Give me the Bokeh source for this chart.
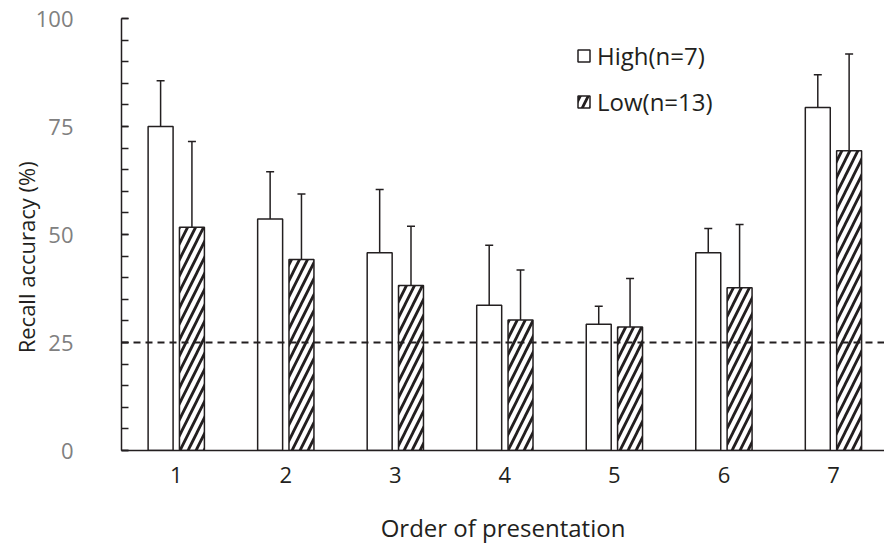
from bokeh.plotting import figure
from bokeh.models import (ColumnDataSource, Whisker, TeeHead, Span, Legend,
                          LegendItem, FixedTicker, Range1d)
from bokeh.embed import file_html
from bokeh.resources import INLINE

# ---- data ----
orders = [1, 2, 3, 4, 5, 6, 7]
order_labels = ["1", "2", "3", "4", "5", "6", "7"]
high_mean = [75.0, 53.6, 45.8, 33.6, 29.2, 45.8, 79.4]
high_lower = [64.4, 42.7, 31.0, 19.7, 25.1, 40.1, 71.6]
high_upper = [85.6, 64.5, 60.4, 47.5, 33.4, 51.4, 87.0]
low_mean = [51.7, 44.2, 38.2, 30.2, 28.6, 37.7, 69.4]
low_lower = [31.5, 29.2, 24.4, 18.4, 17.1, 23.4, 46.7]
low_upper = [71.5, 59.4, 51.9, 41.8, 39.8, 52.3, 91.8]
chance_level = 25
y_ticks = [0, 25, 50, 75, 100]

DARK = "#231f20"
FONT = "Open Sans"
OFFSET = 0.143
BAR_W = 0.228

high_src = ColumnDataSource(dict(
    x=[o - OFFSET for o in orders], top=high_mean,
    lower=high_lower, upper=high_upper))
low_src = ColumnDataSource(dict(
    x=[o + OFFSET for o in orders], top=low_mean,
    lower=low_lower, upper=low_upper))

p = figure(width=884, height=546, x_range=Range1d(0.5, 7.466),
           y_range=Range1d(0, 100), output_backend="svg",
           toolbar_location=None, min_border_left=121, min_border_right=0,
           min_border_top=18, min_border_bottom=95)
p.xgrid.visible = False
p.ygrid.visible = False
p.outline_line_color = None
p.background_fill_color = "white"
p.border_fill_color = "white"

r_high = p.vbar(x="x", top="top", bottom=0, width=BAR_W, source=high_src,
                fill_color="white", line_color=DARK, line_width=1.5)
r_low = p.vbar(x="x", top="top", bottom=0, width=BAR_W, source=low_src,
               fill_color="white", line_color=DARK, line_width=1.5,
               hatch_pattern="/", hatch_color=DARK, hatch_weight=2.8,
               hatch_scale=16)

p.add_layout(Span(location=chance_level, dimension="width",
                  line_color=DARK, line_width=1.8, line_dash="7 5"))

for src in (high_src, low_src):
    w = Whisker(source=src, base="x", upper="upper", lower="lower",
                line_color=DARK, line_width=1.5,
                upper_head=TeeHead(size=8, line_color=DARK, line_width=1.5),
                lower_head=TeeHead(size=8, line_color=DARK, line_width=1.5))
    p.add_layout(w)

# y axis
ya = p.yaxis[0]
ya.ticker = FixedTicker(ticks=y_ticks, minor_ticks=list(range(0, 101, 5)))
ya.axis_line_color = DARK
ya.axis_line_width = 1.5
ya.major_tick_line_color = DARK
ya.major_tick_line_width = 1.5
ya.minor_tick_line_color = DARK
ya.minor_tick_line_width = 1.5
ya.major_tick_in = 7
ya.major_tick_out = 0
ya.minor_tick_in = 7
ya.minor_tick_out = 0
ya.major_label_text_font = FONT
ya.major_label_text_font_size = "22px"
ya.major_label_text_color = "#808080"
ya.major_label_standoff = 48
# trailing no-break spaces nudge the rotated title downwards, as in the reference
ya.axis_label = "Recall accuracy (%)" + "\u00a0" * 8
ya.axis_label_text_font = FONT
ya.axis_label_text_font_size = "22px"
ya.axis_label_text_font_style = "normal"
ya.axis_label_text_color = DARK
ya.axis_label_standoff = -8

# x axis
xa = p.xaxis[0]
xa.ticker = FixedTicker(ticks=orders)
xa.major_label_overrides = {o: l for o, l in zip(orders, order_labels)}
xa.axis_line_color = DARK
xa.axis_line_width = 1.5
xa.major_tick_line_color = None
xa.minor_tick_line_color = None
xa.major_tick_in = 0
xa.major_tick_out = 0
xa.major_label_text_font = FONT
xa.major_label_text_font_size = "22px"
xa.major_label_text_color = DARK
xa.major_label_standoff = 16
xa.axis_label = "Order of presentation"
xa.axis_label_text_font = FONT
xa.axis_label_text_font_size = "24px"
xa.axis_label_text_font_style = "normal"
xa.axis_label_text_color = DARK
xa.axis_label_standoff = 25

legend = Legend(items=[LegendItem(label="High(n=7)", renderers=[r_high]),
                       LegendItem(label="Low(n=13)", renderers=[r_low])],
                location=(455, 332), orientation="vertical",
                glyph_width=15, glyph_height=15, label_height=26,
                spacing=13, padding=0, margin=0, label_standoff=6,
                label_text_font=FONT, label_text_font_size="24px",
                label_text_color=DARK, background_fill_alpha=0,
                border_line_color=None)
p.add_layout(legend)

open("out.html", "w").write(file_html(p, INLINE))
